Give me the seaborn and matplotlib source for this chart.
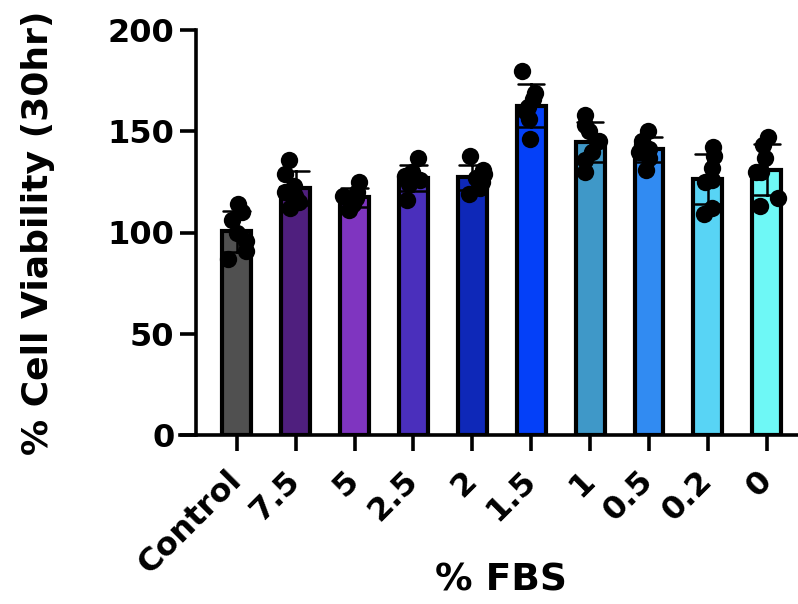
import numpy as np
import pandas as pd
import seaborn as sns
import matplotlib.pyplot as plt

# % FBS groups and replicate viability values
groups = ['Control', '7.5', '5', '2.5', '2', '1.5', '1', '0.5', '0.2', '0']
ctrl = [114, 110, 106, 100, 96, 91, 87]
fbs_75 = [136, 129, 123, 120, 118, 115, 112]
fbs_5 = [125, 120, 118, 117, 116, 114, 111]
fbs_25 = [137, 130, 128, 127, 126, 124, 116]
fbs_2 = [138, 131, 129, 127, 125, 122, 119]
fbs_15 = [180, 169, 166, 162, 160, 156, 146]
fbs_1 = [158, 153, 150, 145, 140, 136, 130]
fbs_05 = [150, 145, 143, 141, 140, 137, 131]
fbs_02 = [142, 138, 132, 126, 125, 112, 109]
fbs_0 = [147, 143, 137, 130, 130, 117, 113]
colors = ['#505050', '#4f1f7e', '#7f35c0', '#4a2fbc', '#0e28b8',
          '#0440f8', '#3f98c8', '#318bf2', '#58d4f5', '#6ef8f6']

vals = [ctrl, fbs_75, fbs_5, fbs_25, fbs_2, fbs_15, fbs_1, fbs_05, fbs_02, fbs_0]
df = pd.DataFrame({'group': np.repeat(groups, [len(v) for v in vals]),
                   'viability': np.concatenate(vals)})

sns.set_style('ticks', {'axes.edgecolor': 'black', 'text.color': 'black',
                        'xtick.color': 'black', 'ytick.color': 'black',
                        'axes.labelcolor': 'black'})
plt.rcParams['font.family'] = ['DejaVu Sans']
plt.rcParams['font.weight'] = 'bold'

fig = plt.figure(figsize=(7.98, 6.04), dpi=100)
ax = fig.add_axes([180/798, 169/604, 618/798, 405/604])

sns.barplot(data=df, x='group', y='viability', hue='group', order=groups,
            palette=colors, saturation=1, legend=False, errorbar='sd',
            width=0.49, capsize=0.45, edgecolor='black', linewidth=3,
            err_kws={'color': 'black', 'linewidth': 1.8}, ax=ax)
np.random.seed(3)
sns.stripplot(data=df, x='group', y='viability', order=groups, color='black',
              size=12.5, jitter=0.2, ax=ax, zorder=5)

ax.set_ylim(0, 200)
ax.set_xlim(-0.963, 9.53)
ax.set_yticks([0, 50, 100, 150, 200])
ax.spines['left'].set_position(('data', -0.69))
ax.spines['left'].set_bounds(0, 200)
for s in ['left', 'bottom']:
    ax.spines[s].set_linewidth(2.6)
sns.despine(ax=ax)
ax.tick_params(axis='both', length=11.5, width=2.6, labelsize=23, pad=4,
               colors='black')
ax.tick_params(axis='x', pad=18)
plt.setp(ax.get_xticklabels(), rotation=45, ha='right', va='center',
         rotation_mode='anchor', fontweight='bold')
plt.setp(ax.get_yticklabels(), fontweight='bold')

ax.set_xlabel('% FBS', fontsize=27, fontweight='bold', color='black')
ax.set_ylabel('% Cell Viability (30hr)', fontsize=26, fontweight='bold', color='black')
ax.xaxis.set_label_coords((501-180)/618, -0.314)
ax.yaxis.set_label_coords((55-180)/618, 0.5)

fig.savefig('out.png', dpi=100)
